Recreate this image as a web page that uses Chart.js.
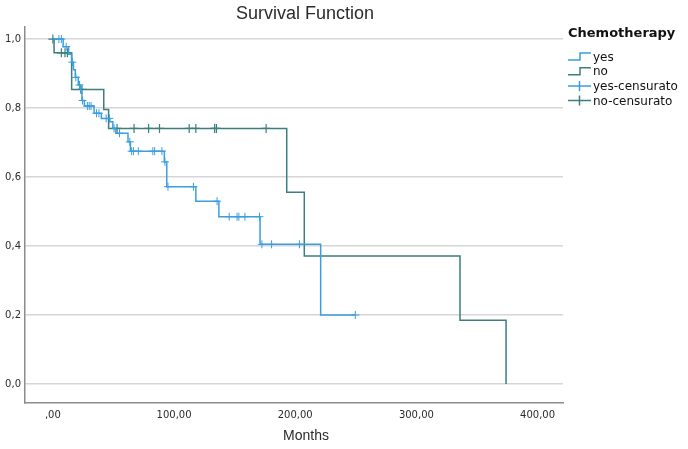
<!DOCTYPE html>
<html>
<head>
<meta charset="utf-8">
<script src="https://cdn.jsdelivr.net/npm/chart.js@4/dist/chart.umd.min.js"></script>
<style>
  html, body { margin: 0; padding: 0; background: #fff; }
  #wrap { width: 688px; height: 449px; }
</style>
</head>
<body>
<div id="wrap"><canvas id="kmChart" width="688" height="449"></canvas></div>
<script>
// Kaplan-Meier steps: time (months) and survival after the step
const yesTime = [0, 8.5, 13, 15.5, 17, 18.5, 21, 23, 24, 26, 34, 40, 47, 49.5, 52, 62, 64, 92, 94, 118, 137, 171, 221, 249.6];
const yesSurv = [1, 0.978, 0.956, 0.933, 0.911, 0.889, 0.867, 0.844, 0.822, 0.806, 0.785, 0.77, 0.76, 0.741, 0.727, 0.702, 0.675, 0.644, 0.572, 0.53, 0.485, 0.405, 0.2, 0.2];

const noTime = [0, 1, 15.5, 42, 46, 193, 207.5, 336, 374];
const noSurv = [1, 0.96, 0.854, 0.796, 0.741, 0.556, 0.371, 0.185, 0];

// censored observations
const yesCensTime = [5, 7, 11, 16, 19, 22, 24.5, 28.5, 30, 31.5, 36, 38, 44, 46.5, 50.5, 55, 63.5, 65, 66.5, 70.5, 82.5, 84, 90, 92.5, 95, 116, 135.5, 145.5, 152, 153.5, 158.5, 170.5, 172.5, 180.5, 203.5, 249.6];
const yesCensSurv = [1, 1, 0.978, 0.933, 0.889, 0.867, 0.822, 0.806, 0.806, 0.806, 0.785, 0.785, 0.77, 0.77, 0.741, 0.727, 0.702, 0.675, 0.675, 0.675, 0.675, 0.675, 0.675, 0.644, 0.572, 0.572, 0.53, 0.485, 0.485, 0.485, 0.485, 0.485, 0.405, 0.405, 0.405, 0.2];

const noCensTime = [0, 7, 10, 12, 24, 53, 67, 79, 88, 112.5, 118, 133.5, 135, 176];
const noCensSurv = [1, 0.96, 0.96, 0.96, 0.854, 0.741, 0.741, 0.741, 0.741, 0.741, 0.741, 0.741, 0.741, 0.741];

const xTicks = [0, 100, 200, 300, 400];
const xTickLabels = [',00', '100,00', '200,00', '300,00', '400,00'];
const yTicks = [0, 0.2, 0.4, 0.6, 0.8, 1.0];
const yTickLabels = ['0,0', '0,2', '0,4', '0,6', '0,8', '1,0'];

const legendLabels = ['yes', 'no', 'yes-censurato', 'no-censurato'];

const YES_COLOR = '#3a9fe0';
const NO_COLOR = '#3d7e7e';
const GRID_COLOR = '#d6d6d6';
const AXIS_COLOR = '#8c8c8c';
const TEXT_COLOR = '#2b2b2b';

const pts = (xs, ys) => xs.map((x, i) => ({ x: x, y: ys[i] }));

// title, axis title and legend drawn by hand (SPSS style placement)
const spssDecor = {
    id: 'spssDecor',
    afterDraw(chart) {
        const c = chart.ctx;
        c.save();
        c.fillStyle = TEXT_COLOR;
        c.textAlign = 'center';
        c.textBaseline = 'middle';
        c.font = '18px "Liberation Sans", Arial, sans-serif';
        c.fillText('Survival Function', 305, 14);
        c.font = '14px "Liberation Sans", Arial, sans-serif';
        c.fillText('Months', 306, 436);

        // legend
        c.textAlign = 'left';
        c.fillStyle = '#111';
        c.font = 'bold 13px "DejaVu Sans", sans-serif';
        c.fillText('Chemotherapy', 568, 34);
        c.font = '12px "DejaVu Sans", sans-serif';
        const colors = [YES_COLOR, NO_COLOR, YES_COLOR, NO_COLOR];
        legendLabels.forEach((lab, i) => {
            const y = 56.5 + i * 14.7;
            c.strokeStyle = colors[i];
            c.lineWidth = 1.5;
            c.beginPath();
            if (i < 2) {
                c.moveTo(568, y + 3.5);
                c.lineTo(580, y + 3.5);
                c.lineTo(580, y - 3.5);
                c.lineTo(591, y - 3.5);
            } else {
                c.moveTo(568, y);
                c.lineTo(591, y);
                c.moveTo(579.5, y - 5);
                c.lineTo(579.5, y + 5);
            }
            c.stroke();
            c.fillStyle = '#111';
            c.fillText(lab, 593, y + 1);
        });
        c.restore();
    }
};

new Chart(document.getElementById('kmChart'), {
    type: 'line',
    data: {
        datasets: [
            {
                label: 'yes',
                data: pts(yesTime, yesSurv),
                borderColor: YES_COLOR,
                borderWidth: 1.5,
                stepped: 'before',
                pointRadius: 0,
                fill: false
            },
            {
                label: 'no',
                data: pts(noTime, noSurv),
                borderColor: NO_COLOR,
                borderWidth: 1.5,
                stepped: 'before',
                pointRadius: 0,
                fill: false
            },
            {
                label: 'yes-censurato',
                data: pts(yesCensTime, yesCensSurv),
                showLine: false,
                pointStyle: 'cross',
                pointRadius: 4,
                pointBorderWidth: 1,
                borderColor: YES_COLOR,
                pointBorderColor: YES_COLOR
            },
            {
                label: 'no-censurato',
                data: pts(noCensTime, noCensSurv),
                showLine: false,
                pointStyle: 'cross',
                pointRadius: 4.5,
                pointBorderWidth: 1.2,
                borderColor: NO_COLOR,
                pointBorderColor: NO_COLOR
            }
        ]
    },
    options: {
        responsive: false,
        animation: false,
        layout: { padding: { top: 27, right: 125, left: 0, bottom: 0 } },
        plugins: {
            legend: { display: false },
            title: { display: false },
            tooltip: { enabled: false }
        },
        scales: {
            x: {
                type: 'linear',
                min: -23,
                max: 421,
                afterBuildTicks: s => { s.ticks = xTicks.map(v => ({ value: v })); },
                afterFit: s => { s.height = 46; },
                grid: { display: false, drawTicks: false },
                border: { color: AXIS_COLOR, width: 1.5 },
                ticks: {
                    color: TEXT_COLOR,
                    padding: 6,
                    maxRotation: 0,
                    font: { family: '"DejaVu Sans", sans-serif', size: 10 },
                    callback: v => xTickLabels[xTicks.indexOf(v)]
                }
            },
            y: {
                type: 'linear',
                min: -0.055,
                max: 1.035,
                afterBuildTicks: s => { s.ticks = yTicks.map(v => ({ value: v })); },
                afterFit: s => { s.width = 25; },
                grid: { color: GRID_COLOR, lineWidth: 1.5, drawTicks: false },
                border: { color: AXIS_COLOR, width: 1.5 },
                ticks: {
                    color: TEXT_COLOR,
                    padding: 4,
                    font: { family: '"DejaVu Sans", sans-serif', size: 10 },
                    callback: v => yTickLabels[yTicks.indexOf(v)]
                }
            }
        }
    },
    plugins: [spssDecor]
});
</script>
</body>
</html>
